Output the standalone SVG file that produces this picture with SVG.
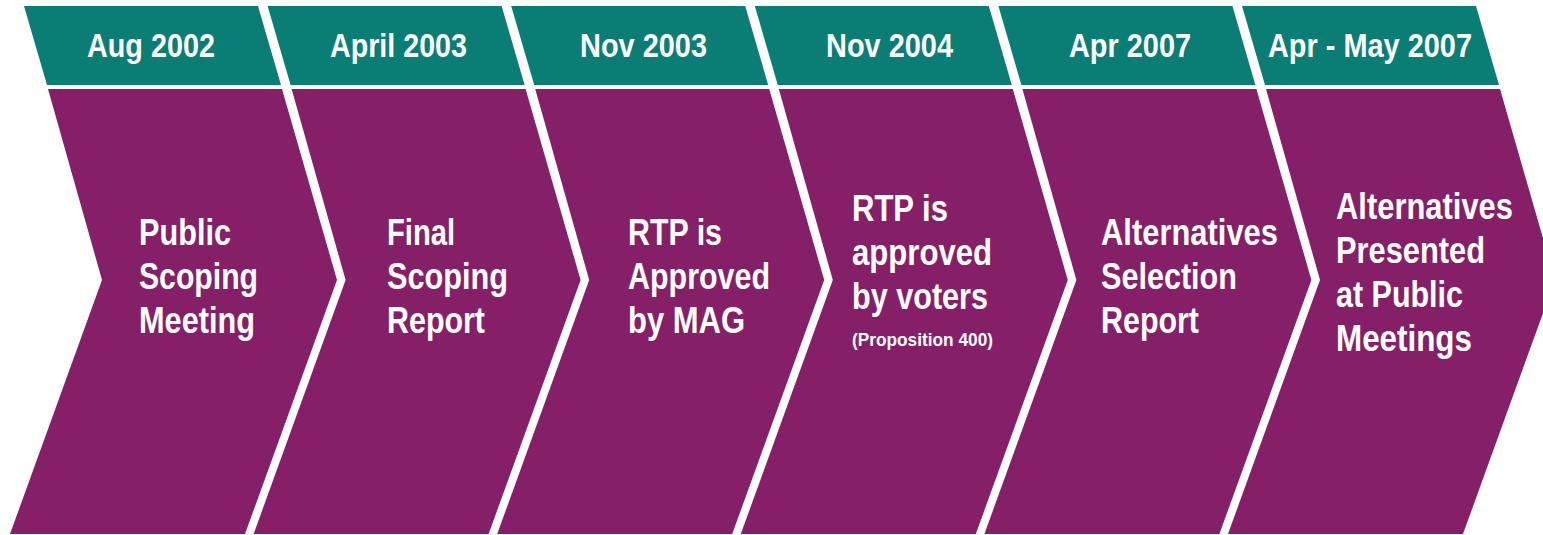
<svg xmlns="http://www.w3.org/2000/svg" width="1543" height="535" viewBox="0 0 1543 535">
<style>
.hdr{fill:#0a7d75}
.body{fill:#852068}
.t{font-family:'Liberation Sans',Arial,sans-serif;font-weight:bold;fill:#ffffff}
.h{font-size:34px}
.b{font-size:36px}
.s{font-size:18px}
</style>
<defs>
<polygon id="hp" points="24,6 258,6 281,85 47,85"/>
<polygon id="bp" points="48,89 282,89 337,280 245,534 10,534 102,280"/>
</defs>
<rect width="1543" height="535" fill="#ffffff"/>
<g id="step1">
<use href="#hp" class="hdr"/><use href="#bp" class="body"/>
<text class="t h" x="87" y="57" textLength="128" lengthAdjust="spacingAndGlyphs">Aug 2002</text>
<text class="t b" x="139" y="245" textLength="92" lengthAdjust="spacingAndGlyphs">Public</text>
<text class="t b" x="139" y="289" textLength="119" lengthAdjust="spacingAndGlyphs">Scoping</text>
<text class="t b" x="139" y="333" textLength="116" lengthAdjust="spacingAndGlyphs">Meeting</text>
</g>
<g id="step2">
<use href="#hp" class="hdr" transform="translate(243.6,0)"/><use href="#bp" class="body" transform="translate(243.6,0)"/>
<text class="t h" x="330" y="57" textLength="137" lengthAdjust="spacingAndGlyphs">April 2003</text>
<text class="t b" x="387" y="245" textLength="68" lengthAdjust="spacingAndGlyphs">Final</text>
<text class="t b" x="387" y="289" textLength="121" lengthAdjust="spacingAndGlyphs">Scoping</text>
<text class="t b" x="387" y="333" textLength="98" lengthAdjust="spacingAndGlyphs">Report</text>
</g>
<g id="step3">
<use href="#hp" class="hdr" transform="translate(487.2,0)"/><use href="#bp" class="body" transform="translate(487.2,0)"/>
<text class="t h" x="580" y="57" textLength="127" lengthAdjust="spacingAndGlyphs">Nov 2003</text>
<text class="t b" x="628" y="245" textLength="94" lengthAdjust="spacingAndGlyphs">RTP is</text>
<text class="t b" x="628" y="289" textLength="142" lengthAdjust="spacingAndGlyphs">Approved</text>
<text class="t b" x="628" y="333" textLength="117" lengthAdjust="spacingAndGlyphs">by MAG</text>
</g>
<g id="step4">
<use href="#hp" class="hdr" transform="translate(730.8,0)"/><use href="#bp" class="body" transform="translate(730.8,0)"/>
<text class="t h" x="826" y="57" textLength="127" lengthAdjust="spacingAndGlyphs">Nov 2004</text>
<text class="t b" x="852" y="221" textLength="96" lengthAdjust="spacingAndGlyphs">RTP is</text>
<text class="t b" x="852" y="265" textLength="140" lengthAdjust="spacingAndGlyphs">approved</text>
<text class="t b" x="852" y="309" textLength="136" lengthAdjust="spacingAndGlyphs">by voters</text>
<text class="t s" x="852" y="346" textLength="141" lengthAdjust="spacingAndGlyphs">(Proposition 400)</text>
</g>
<g id="step5">
<use href="#hp" class="hdr" transform="translate(974.4,0)"/><use href="#bp" class="body" transform="translate(974.4,0)"/>
<text class="t h" x="1069" y="57" textLength="122" lengthAdjust="spacingAndGlyphs">Apr 2007</text>
<text class="t b" x="1101" y="245" textLength="177" lengthAdjust="spacingAndGlyphs">Alternatives</text>
<text class="t b" x="1101" y="289" textLength="136" lengthAdjust="spacingAndGlyphs">Selection</text>
<text class="t b" x="1101" y="333" textLength="98" lengthAdjust="spacingAndGlyphs">Report</text>
</g>
<g id="step6">
<use href="#hp" class="hdr" transform="translate(1218,0)"/><use href="#bp" class="body" transform="translate(1218,0)"/>
<text class="t h" x="1268" y="57" textLength="204" lengthAdjust="spacingAndGlyphs">Apr - May 2007</text>
<text class="t b" x="1336" y="219" textLength="177" lengthAdjust="spacingAndGlyphs">Alternatives</text>
<text class="t b" x="1336" y="263" textLength="149" lengthAdjust="spacingAndGlyphs">Presented</text>
<text class="t b" x="1336" y="307" textLength="127" lengthAdjust="spacingAndGlyphs">at Public</text>
<text class="t b" x="1336" y="351" textLength="136" lengthAdjust="spacingAndGlyphs">Meetings</text>
</g>
<g id="connectors"/>
</svg>
